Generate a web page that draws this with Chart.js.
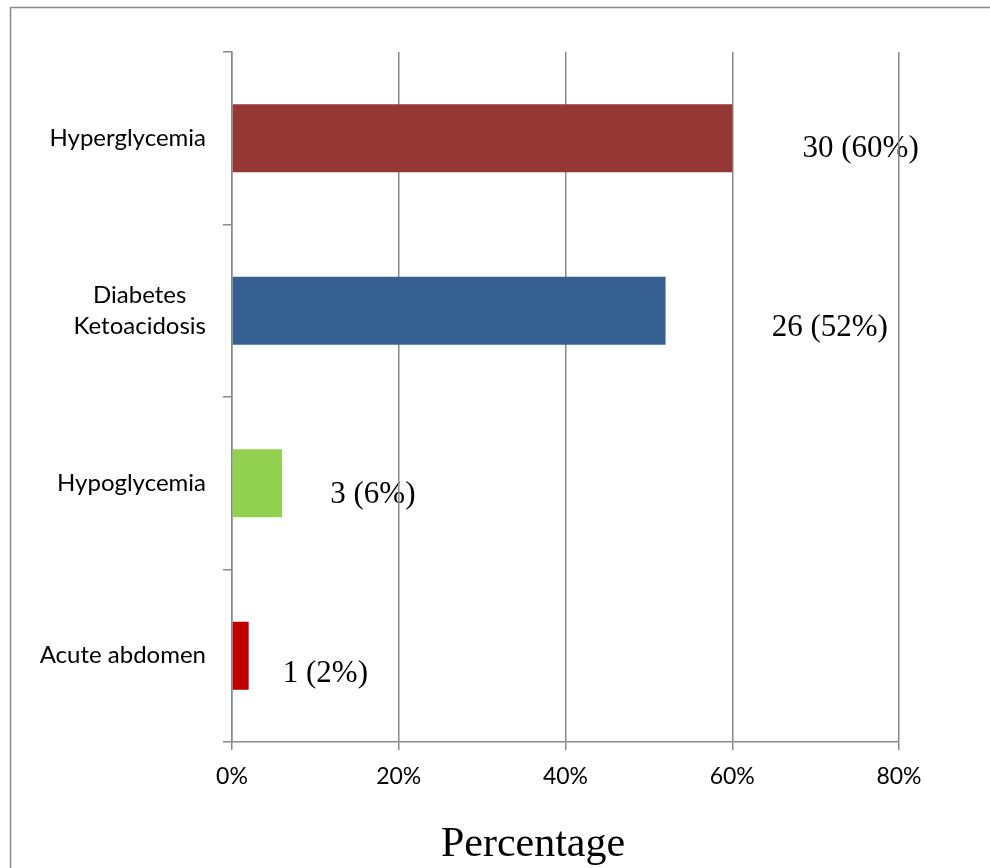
<!DOCTYPE html>
<html>
<head>
<meta charset="utf-8">
<script src="https://cdn.jsdelivr.net/npm/chart.js@4/dist/chart.umd.min.js"></script>
<style>
  html, body { margin: 0; padding: 0; background: #fff; overflow: hidden; }
  #wrap { width: 990px; height: 868px; position: relative; }
</style>
</head>
<body>
<div id="wrap"><canvas id="c" width="990" height="868"></canvas></div>
<script>
// Complications, counts and percentages of patients
const categories = [['Hyperglycemia'], ['Diabetes', 'Ketoacidosis'], ['Hypoglycemia'], ['Acute abdomen']];
const counts = [30, 26, 3, 1];
const percents = [60, 52, 6, 2];
const barColors = ['#953735', '#376092', '#92D050', '#C00000'];
const xTicks = [0, 20, 40, 60, 80];
const axisTitle = 'Percentage';

// Where each value label sits: centre in axis units, baseline offset in px below the bar centre
const labelPlacement = [
  { x: 75.4, dy: 19 },
  { x: 71.7, dy: 25 },
  { x: 16.9, dy: 20 },
  { x: 11.2, dy: 26 }
];

const GREY = '#888888';
const SANS = 'Lato, "Open Sans", sans-serif';
const SERIF = '"Liberation Serif", "DejaVu Serif", serif';

const decorations = {
  id: 'decorations',
  beforeDraw(chart) {
    const ctx = chart.ctx;
    const xs = chart.scales.x, ys = chart.scales.y;
    ctx.save();
    // outer frame
    ctx.strokeStyle = GREY;
    ctx.lineWidth = 1.5;
    ctx.beginPath();
    ctx.moveTo(10.5, 870);
    ctx.lineTo(10.5, 7.5);
    ctx.lineTo(995, 7.5);
    ctx.stroke();

    // value labels (underneath the grid lines)
    ctx.fillStyle = '#000';
    ctx.font = '31px ' + SERIF;
    ctx.textAlign = 'center';
    ctx.textBaseline = 'alphabetic';
    percents.forEach((p, i) => {
      const pl = labelPlacement[i];
      const cx = xs.getPixelForValue(pl.x);
      const cy = ys.getPixelForValue(i) + pl.dy;
      ctx.fillText(counts[i] + ' (' + p + '%)', cx, cy);
    });

    // category labels: block right-aligned, lines centred within the block
    ctx.font = '24px ' + SANS;
    ctx.textBaseline = 'middle';
    const rightEdge = 206;
    const lineH = 31;
    categories.forEach((lines, i) => {
      const widest = Math.max(...lines.map(l => ctx.measureText(l).width));
      const cx = rightEdge - widest / 2;
      const cy = ys.getPixelForValue(i);
      lines.forEach((l, k) => {
        ctx.fillText(l, cx, cy + (k - (lines.length - 1) / 2) * lineH);
      });
    });

    // axis title
    ctx.font = '42px ' + SERIF;
    ctx.textBaseline = 'alphabetic';
    ctx.fillText(axisTitle, 533, 856);
    ctx.restore();
  }
};

new Chart(document.getElementById('c'), {
  type: 'bar',
  data: {
    labels: categories.map(l => l.join(' ')),
    datasets: [{
      data: percents,
      backgroundColor: barColors,
      borderWidth: 0,
      barPercentage: 0.395,
      categoryPercentage: 1
    }]
  },
  options: {
    indexAxis: 'y',
    responsive: false,
    animation: false,
    devicePixelRatio: 1,
    layout: { padding: { top: 52, right: 91, left: 0, bottom: 0 } },
    plugins: {
      legend: { display: false },
      tooltip: { enabled: false },
      title: { display: false }
    },
    scales: {
      x: {
        min: 0,
        max: 80,
        afterBuildTicks(scale) { scale.ticks = xTicks.map(v => ({ value: v })); },
        afterFit(scale) { scale.height = 126; },
        grid: { color: GREY, lineWidth: 1.5, tickLength: 8, drawTicks: true },
        border: { color: GREY, width: 1.5 },
        ticks: {
          color: '#000',
          font: { family: SANS, size: 23 },
          padding: 13,
          callback: v => v + '%'
        }
      },
      y: {
        offset: true,
        afterFit(scale) { scale.width = 232; },
        grid: { drawOnChartArea: false, offset: true, color: GREY, lineWidth: 1.5, tickLength: 9 },
        border: { color: GREY, width: 1.5 },
        ticks: { display: false }
      }
    }
  },
  plugins: [decorations]
});
</script>
</body>
</html>
